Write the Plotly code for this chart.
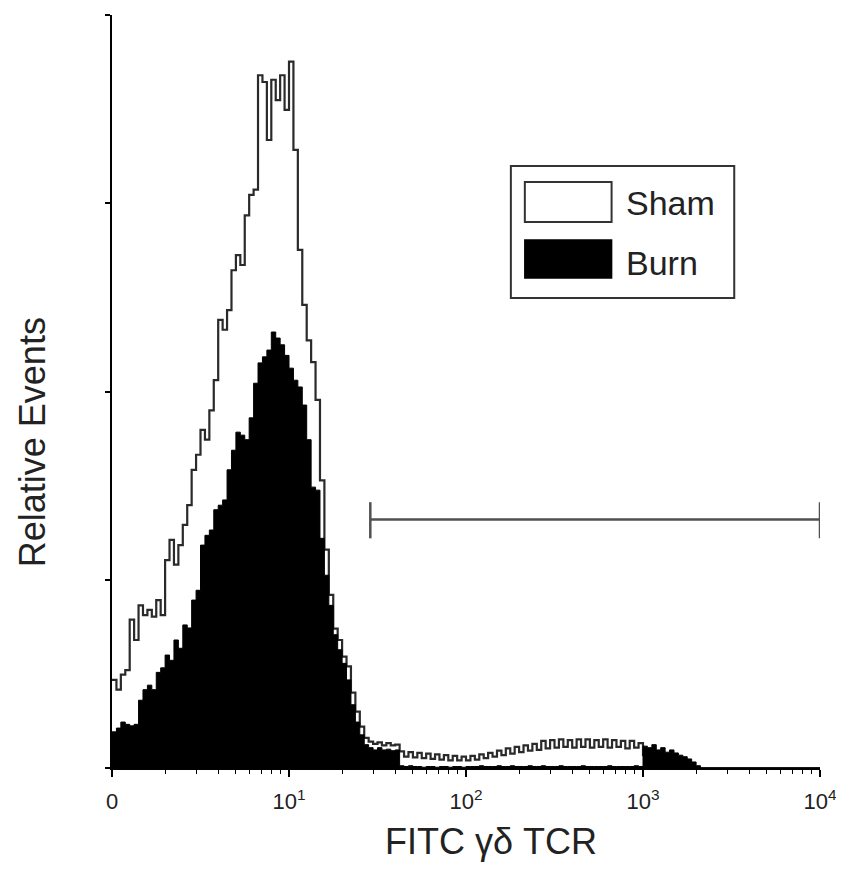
import numpy as np
import plotly.graph_objects as go

# ---- data: histogram channels (40 channels per decade, 4 decades) ----
bins_per_decade = 40
n_decades = 4

sham_counts = [
    11.7, 10.4, 12.4, 13.0, 19.7, 17.0, 21.6, 20.3, 21.0, 20.1,
    22.3, 20.3, 27.6, 30.3, 27.0, 29.6, 32.3, 34.9, 39.6, 41.6,
    44.9, 43.6, 47.5, 51.5, 59.5, 58.2, 60.8, 66.1, 68.1, 66.8,
    73.4, 76.1, 76.8, 92.0, 91.1, 83.4, 91.4, 88.7, 92.0, 87.4,
    93.8, 82.1, 68.8, 61.5, 56.8, 53.9, 48.9, 38.2, 29.0,
    23.0, 18.5, 17.0, 14.8, 13.5, 10.0, 7.5, 5.5, 4.0, 3.5, 3.2, 3.4, 3.0, 3.3, 3.0, 3.1,
    2.2, 1.5, 2.1, 1.4, 2.0, 1.3, 1.9, 1.2, 1.8, 1.1, 1.7, 1.0, 1.6, 1.0, 1.5,
    1.0, 1.6, 1.1, 1.8, 1.3, 2.0, 1.5,
    2.3, 1.7, 2.6, 1.9, 2.8, 2.1, 3.0, 2.3, 3.2, 2.4,
    3.6, 2.6, 3.7, 2.7, 3.8, 2.8, 3.7, 2.7, 3.8, 2.8, 3.8, 2.7, 3.7, 2.8, 3.8, 2.7,
    3.7, 2.8, 3.6, 2.6, 3.6, 2.7, 3.3,
    1.7, 1.6, 1.5, 1.3, 1.1, 0.9, 0.8, 0.7, 0.5, 0.4, 0.3, 0.1,
] + [0.0] * 28

burn_counts = [
    4.8, 5.3, 6.1, 5.8, 5.6, 5.8, 9.0, 10.4, 11.0, 10.4,
    12.7, 13.3, 15.0, 14.3, 17.0, 15.9, 19.0, 18.6, 22.3, 23.6,
    29.6, 30.9, 31.6, 34.3, 34.9, 35.6, 39.6, 42.2, 44.6, 44.2,
    43.6, 46.5, 51.1, 53.8, 54.6, 55.5, 57.9, 57.1, 56.2, 54.8,
    53.1, 51.5, 50.6, 48.2, 43.6, 37.3, 36.9, 30.5, 25.6, 21.6,
    17.7, 15.7, 13.9, 11.7, 8.4, 6.1, 4.4, 3.1, 2.7, 2.4,
    2.7, 2.4, 2.5, 2.3, 2.4,
    0.3, 0.2, 0.3, 0.2, 0.2, 0.1, 0.2, 0.2, 0.1, 0.2,
    0.2, 0.1, 0.2, 0.2, 0.1, 0.2, 0.2, 0.2, 0.3, 0.2,
    0.2, 0.2, 0.3, 0.2, 0.2, 0.3, 0.2, 0.2, 0.2, 0.3,
    0.2, 0.2, 0.3, 0.2, 0.2, 0.2, 0.3, 0.2, 0.2, 0.2,
    0.2, 0.3, 0.2, 0.2, 0.2, 0.2, 0.2, 0.3, 0.2, 0.2,
    0.2, 0.2, 0.2, 0.3, 0.2,
    2.9, 2.7, 3.1, 2.4, 2.7, 2.1, 2.4, 2.0, 1.7, 1.5, 1.2, 0.8, 0.3,
] + [0.0] * 27

# gate marker (fluorescence range, level on relative-events scale)
gate_range = [28.8, 10000.0]
gate_level = 33.0
gate_cap = [30.5, 35.3]

x_tickvals = [1, 10, 100, 1000, 10000]
x_ticktext = ["0", "10<sup>1</sup>", "10<sup>2</sup>", "10<sup>3</sup>", "10<sup>4</sup>"]
y_tickvals = [0, 25, 50, 75, 100]

legend_labels = ["Sham", "Burn"]

# ---- build step histograms ----
n_bins = bins_per_decade * n_decades
edges = 10 ** (np.arange(n_bins + 1) / bins_per_decade)


def step_xy(vals):
    v = list(vals)
    return list(edges), v + [v[-1]]


FONT = "Liberation Sans, Arial, sans-serif"
fig = go.Figure()

sx, sy = step_xy(sham_counts)
fig.add_trace(go.Scatter(
    x=sx, y=sy, mode="lines", line=dict(shape="hv", color="#2a2a2a", width=2.2),
    fill="tozeroy", fillcolor="white", hoverinfo="skip", showlegend=False))

bx, by = step_xy(burn_counts)
fig.add_trace(go.Scatter(
    x=bx, y=by, mode="lines", line=dict(shape="hv", color="black", width=1),
    fill="tozeroy", fillcolor="black", hoverinfo="skip", showlegend=False))

# gate bar
g0, g1 = gate_range
fig.add_trace(go.Scatter(
    x=[g0, g0, None, g0, g1, None, g1, g1],
    y=[gate_cap[0], gate_cap[1], None, gate_level, gate_level, None, gate_cap[0], gate_cap[1]],
    mode="lines", line=dict(color="#505050", width=2.5), hoverinfo="skip", showlegend=False))

# ---- layout geometry (page body has an 8px default margin) ----
BODY = 8
L, W = 112, 710     # plot area left / width on screen
T, H = 15, 753      # plot area top / height on screen
FIG_W, FIG_H = 844 - BODY, 884 - BODY


def px(xp):
    return (xp - L) / W


def py(yp):
    return (T + H - yp) / H


shapes = [
    dict(type="rect", xref="paper", yref="paper", x0=px(512), x1=px(736), y0=py(298), y1=py(166),
         line=dict(color="#333", width=2), fillcolor="white", layer="above"),
    dict(type="rect", xref="paper", yref="paper", x0=px(526), x1=px(613), y0=py(222), y1=py(182),
         line=dict(color="#333", width=2), fillcolor="white", layer="above"),
    dict(type="rect", xref="paper", yref="paper", x0=px(526), x1=px(613), y0=py(278), y1=py(240),
         line=dict(color="black", width=1.5), fillcolor="black", layer="above"),
]

annotations = [
    dict(text=legend_labels[0], xref="paper", yref="paper", x=px(625), y=py(203), xanchor="left",
         yanchor="middle", showarrow=False, font=dict(family=FONT, size=34, color="#222")),
    dict(text=legend_labels[1], xref="paper", yref="paper", x=px(625), y=py(263), xanchor="left",
         yanchor="middle", showarrow=False, font=dict(family=FONT, size=34, color="#222")),
    dict(text="FITC γδ TCR", xref="paper", yref="paper", x=px(492), y=py(842), xanchor="center",
         yanchor="middle", showarrow=False, font=dict(family=FONT, size=36, color="#222")),
    dict(text="Relative Events", xref="paper", yref="paper", x=px(33), y=py(442), xanchor="center",
         yanchor="middle", textangle=-90, showarrow=False, font=dict(family=FONT, size=36, color="#222")),
]

minor_vals = [m * 10 ** d for d in range(n_decades) for m in range(2, 10)]

fig.update_layout(
    width=FIG_W, height=FIG_H,
    margin=dict(l=L - BODY, r=FIG_W - (L - BODY) - W, t=T - BODY, b=FIG_H - (T - BODY) - H),
    paper_bgcolor="white", plot_bgcolor="white",
    shapes=shapes, annotations=annotations,
    xaxis=dict(type="log", range=[0, n_decades], showgrid=False, zeroline=False,
               showline=True, linecolor="black", linewidth=1.5,
               ticks="outside", ticklen=7, tickwidth=1.5, tickcolor="black",
               tickvals=x_tickvals, ticktext=x_ticktext, ticklabelstandoff=6,
               tickfont=dict(family=FONT, size=22, color="#222"),
               minor=dict(tickvals=minor_vals, ticks="outside", ticklen=4, tickwidth=1, tickcolor="black")),
    yaxis=dict(range=[0, 100], showgrid=False, zeroline=False,
               showline=True, linecolor="black", linewidth=1.5,
               ticks="outside", ticklen=5, tickwidth=1.5, tickcolor="black",
               tickvals=y_tickvals, showticklabels=False),
)

fig.write_html("out.html")
